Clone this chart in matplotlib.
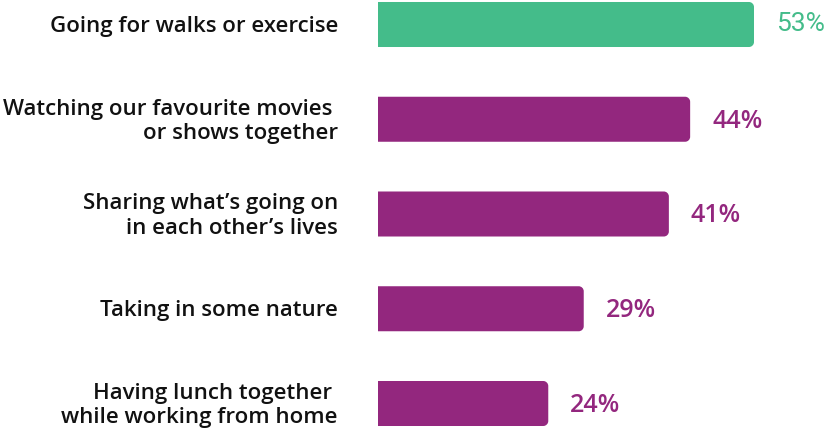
import matplotlib
matplotlib.use("Agg")
import matplotlib.pyplot as plt
from matplotlib.patches import PathPatch
from matplotlib.path import Path
from matplotlib.transforms import offset_copy

categories = [
    "Going for walks or exercise",
    "Watching our favourite movies \nor shows together",
    "Sharing what\u2019s going on\nin each other\u2019s lives",
    "Taking in some nature",
    "Having lunch together \nwhile working from home",
]
values = [53, 44, 41, 29, 24]
value_labels = ["53%", "44%", "41%", "29%", "24%"]
colors = ["#44BC8A", "#93277E", "#93277E", "#93277E", "#93277E"]

W, H, DPI = 828, 429, 100
fig = plt.figure(figsize=(W / DPI, H / DPI), dpi=DPI)
fig.patch.set_facecolor("white")

x0 = 378
ax = fig.add_axes([x0 / W, 0, (W - x0) / W, 1])
px_per_pct = (754 - x0) / 53
ax.set_xlim(0, (W - x0) / px_per_pct)
step = 94.75
ax.set_ylim(4 + (H - 403.5) / step, -24.5 / step)
ax.axis("off")

bar_h = 0.475
r = 5.0
k = 0.5523  # bezier circle constant


def bar_path(left, bottom, right, top):
    """Square on the left, rounded corners on the right (display units)."""
    verts = [
        (left, bottom),
        (right - r, bottom),
        (right - r + k * r, bottom), (right, bottom + r - k * r), (right, bottom + r),
        (right, top - r),
        (right, top - r + k * r), (right - r + k * r, top), (right - r, top),
        (left, top),
        (left, bottom),
    ]
    codes = [Path.MOVETO, Path.LINETO,
             Path.CURVE4, Path.CURVE4, Path.CURVE4,
             Path.LINETO,
             Path.CURVE4, Path.CURVE4, Path.CURVE4,
             Path.LINETO, Path.CLOSEPOLY]
    return Path(verts, codes)


fig.canvas.draw()
to_disp = ax.transData
for i, (v, c) in enumerate(zip(values, colors)):
    xa, ya = to_disp.transform((0, i - bar_h / 2))
    xb, yb = to_disp.transform((v, i + bar_h / 2))
    p = bar_path(min(xa, xb), min(ya, yb), max(xa, xb), max(ya, yb))
    fig.patches.append(PathPatch(p, facecolor=c, linewidth=0, transform=None))

label_tr = offset_copy(ax.transData, fig=fig, x=-40, y=-2, units="dots")
for i, cat in enumerate(categories):
    ax.text(0, i, cat, transform=label_tr, ha="right", va="center",
            multialignment="right", fontsize=16, family="Open Sans",
            fontweight="semibold", color="#111111", linespacing=1.2)

green_tr = offset_copy(ax.transData, fig=fig, x=22, y=0, units="dots")
purple_tr = offset_copy(ax.transData, fig=fig, x=22, y=-2, units="dots")
for i, (v, lab, c) in enumerate(zip(values, value_labels, colors)):
    if i == 0:
        ax.text(v, i, lab, transform=green_tr, ha="left", va="center",
                fontsize=19, family="Roboto", color=c)
    else:
        ax.text(v, i, lab, transform=purple_tr, ha="left", va="center",
                fontsize=18, family="Open Sans", fontweight="semibold",
                color=c)

fig.savefig("out.png", dpi=DPI, facecolor="white")
